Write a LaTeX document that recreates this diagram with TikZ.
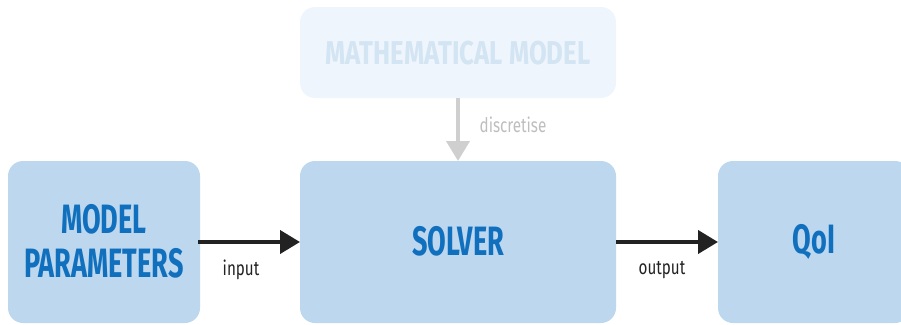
\documentclass[tikz,border=0pt]{standalone}
\usepackage{fontspec}
\setmainfont{Fira Sans}
\newfontfamily\titlefont[FakeStretch=0.66]{Fira Sans Bold}
\newfontfamily\widetitlefont[FakeStretch=0.78]{Fira Sans Bold}
\newfontfamily\labelfont[FakeStretch=0.76]{Fira Sans}
\usetikzlibrary{arrows.meta}
\definecolor{boxfill}{HTML}{BDD7EE}
\definecolor{boxtext}{HTML}{1170BE}
\definecolor{fadefill}{HTML}{EFF5FC}
\definecolor{fadetext}{HTML}{D3E4F3}
\definecolor{arrowgray}{HTML}{CFCFCF}
\definecolor{labelgray}{HTML}{BEBEBE}
\definecolor{arrowdark}{HTML}{222222}
\begin{document}
\begin{tikzpicture}[x=1pt,y=-1pt,
  block/.style={fill=boxfill, rounded corners=15pt, inner sep=0pt},
  title/.style={font=\titlefont\fontsize{41}{44}\selectfont, text=boxtext, align=center, inner sep=0pt},
  conn/.style={line width=4pt, draw=arrowdark, -{Triangle[length=20pt,width=23pt]}},
  lbl/.style={font=\labelfont\fontsize{20}{22}\selectfont, text=arrowdark, inner sep=0pt}
]
\useasboundingbox (0,0) rectangle (901,324);
\path[block] (8,161) rectangle (200,323);
\path[block] (300,161) rectangle (616,323);
\path[block] (718,161) rectangle (910,323);
\path[block, fill=fadefill] (300,7) rectangle (616,98);
\node[title] (mp) at (104,241) {MODEL\\PARAMETERS};
\node[title] (solver) at (458,241) {SOLVER};
\node[title] (qoi) at (814,242) {QoI};
\node[title, text=fadetext, font=\widetitlefont\fontsize{33}{36}\selectfont] (mm) at (458,53) {MATHEMATICAL MODEL};
\coordinate (mpE) at (198,242);
\coordinate (solW) at (300,242);
\coordinate (solE) at (616,242);
\coordinate (qoiW) at (718,242);
\coordinate (mmS) at (458,98);
\coordinate (solN) at (458,161);
\draw[conn] (mpE) -- (solW);
\draw[conn] (solE) -- (qoiW);
\draw[conn, draw=arrowgray] (mmS) -- (solN);
\node[lbl] (in) at (241,270) {input};
\node[lbl] (out) at (662,270) {output};
\node[lbl, text=labelgray] (disc) at (513,125) {discretise};
\end{tikzpicture}
\end{document}
